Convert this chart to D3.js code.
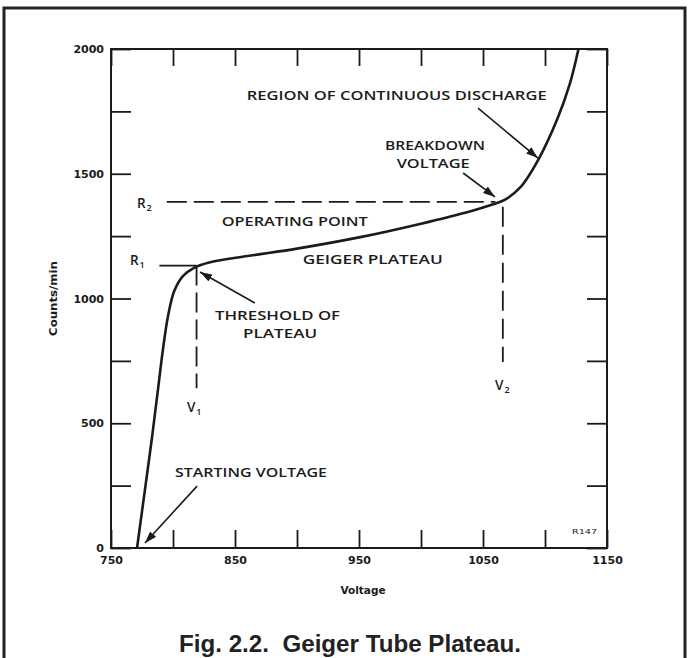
<!DOCTYPE html>
<html><head><meta charset="utf-8">
<script src="https://cdn.jsdelivr.net/npm/d3@7"></script>
<style>
html,body{margin:0;padding:0;background:#fff;}
svg{display:block;}
</style></head>
<body>
<script>
// ---- data ----
const voltage = [771, 777, 783, 788, 792, 796, 801, 808, 817, 830, 860, 900, 950, 1000, 1040, 1057, 1067, 1080, 1095, 1110, 1120, 1127];
const counts  = [0, 220, 440, 640, 800, 930, 1030, 1090, 1123, 1145, 1170, 1200, 1245, 1300, 1350, 1376, 1394, 1445, 1560, 1720, 1860, 2000];
const xTicks = [750, 800, 850, 900, 950, 1000, 1050, 1100, 1150];
const xTickLabels = [750, 850, 950, 1050, 1150];
const yTicks = [0, 250, 500, 750, 1000, 1250, 1500, 1750, 2000];
const yTickLabels = [0, 500, 1000, 1500, 2000];
const R1 = 1132, R2 = 1387, V1 = 819, V2 = 1066;
const annoText = ["REGION OF CONTINUOUS DISCHARGE", "BREAKDOWN", "VOLTAGE", "OPERATING POINT", "GEIGER PLATEAU", "THRESHOLD OF", "PLATEAU", "STARTING VOLTAGE"];
const annoV = [859.4, 971, 980.4, 839.3, 904.6, 833.9, 856.5, 801.6];
const annoC = [1815, 1615, 1542, 1308, 1158, 934, 862, 302];
const arrowFrom = [[1046, 1763], [1034, 1503], [866, 982], [819.4, 248]];
const arrowTo   = [[1094.3, 1563], [1059.7, 1407], [821.8, 1106], [777.4, 20]];
const title = "Fig. 2.2.  Geiger Tube Plateau.";
const xTitle = "Voltage", yTitle = "Counts/min";

const W = 689, H = 658;
const ink = "#1b1b1b";
const svg = d3.select("body").append("svg").attr("width", W).attr("height", H);

// outer border (open at bottom)
svg.append("path").attr("d", `M4,${H} V8 H685 V${H}`).attr("fill", "none").attr("stroke", "#222").attr("stroke-width", 3);

const x = d3.scaleLinear().domain([750, 1150]).range([111, 607]);
const y = d3.scaleLinear().domain([0, 2000]).range([548, 49]);

const tickFont = "bold 11px 'DejaVu Sans', sans-serif";

function styleAxis(g) {
  g.select(".domain").remove();
  g.selectAll(".tick line").attr("stroke", ink).attr("stroke-width", 1.8);
  g.selectAll(".tick text").attr("fill", ink).style("font", tickFont);
}

svg.append("g").attr("transform", `translate(0,${y(0)})`)
  .call(d3.axisBottom(x).tickValues(xTicks).tickSize(-18).tickPadding(8)
    .tickFormat(d => xTickLabels.includes(d) ? d : ""))
  .call(styleAxis);
svg.append("g").attr("transform", `translate(0,${y(2000)})`)
  .call(d3.axisTop(x).tickValues(xTicks).tickSize(-17).tickFormat(""))
  .call(styleAxis);
svg.append("g").attr("transform", `translate(${x(750)},0)`)
  .call(d3.axisLeft(y).tickValues(yTicks).tickSize(-20).tickPadding(7)
    .tickFormat(d => yTickLabels.includes(d) ? d : ""))
  .call(styleAxis);
svg.append("g").attr("transform", `translate(${x(1150)},0)`)
  .call(d3.axisRight(y).tickValues(yTicks).tickSize(-20).tickFormat(""))
  .call(styleAxis);

// frame
svg.append("rect").attr("x", x(750)).attr("y", y(2000))
  .attr("width", x(1150) - x(750)).attr("height", y(0) - y(2000))
  .attr("fill", "none").attr("stroke", ink).attr("stroke-width", 2);

// axis titles
svg.append("text").attr("x", (x(750) + x(1150)) / 2 + 4).attr("y", 594)
  .attr("text-anchor", "middle").attr("fill", ink)
  .style("font", "bold 10.5px 'DejaVu Sans', sans-serif").text(xTitle);
svg.append("text").attr("transform", `translate(57,${y(1000)}) rotate(-90)`)
  .attr("text-anchor", "middle").attr("fill", ink)
  .attr("textLength", 75).attr("lengthAdjust", "spacingAndGlyphs")
  .style("font", "bold 10.5px 'DejaVu Sans', sans-serif").text(yTitle);

// reference lines
const dash = "20,7";
svg.append("line").attr("x1", x(789)).attr("x2", x(V1)).attr("y1", y(R1)).attr("y2", y(R1))
  .attr("stroke", ink).attr("stroke-width", 1.8);
svg.append("line").attr("x1", x(795)).attr("x2", x(1060)).attr("y1", y(R2)).attr("y2", y(R2))
  .attr("stroke", ink).attr("stroke-width", 1.8).attr("stroke-dasharray", dash);
svg.append("line").attr("x1", x(V1)).attr("x2", x(V1)).attr("y1", y(R1)).attr("y2", y(640))
  .attr("stroke", ink).attr("stroke-width", 1.8).attr("stroke-dasharray", dash);
svg.append("line").attr("x1", x(V2)).attr("x2", x(V2)).attr("y1", y(1368)).attr("y2", y(745))
  .attr("stroke", ink).attr("stroke-width", 1.8).attr("stroke-dasharray", "20,8");

// curve
const pts = voltage.map((v, i) => [v, counts[i]]);
svg.append("path").datum(pts)
  .attr("d", d3.line().x(d => x(d[0])).y(d => y(d[1])).curve(d3.curveCatmullRom.alpha(0.5)))
  .attr("fill", "none").attr("stroke", ink).attr("stroke-width", 2.6).attr("stroke-linejoin", "round");

// annotations
const annoWidth = [300, 100, 73, 146, 140, 125, 74, 152];
const annoFont = "600 13px 'Open Sans', 'DejaVu Sans', sans-serif";
annoText.forEach((t, i) => {
  svg.append("text").attr("x", x(annoV[i])).attr("y", y(annoC[i])).attr("dy", "0.36em")
    .attr("fill", ink).attr("textLength", annoWidth[i]).attr("lengthAdjust", "spacingAndGlyphs")
    .style("font", annoFont).text(t);
});

// arrow markers
const defs = svg.append("defs");
defs.append("marker").attr("id", "ah").attr("viewBox", "0 0 12 8").attr("refX", 12).attr("refY", 4)
  .attr("markerWidth", 12).attr("markerHeight", 8).attr("markerUnits", "userSpaceOnUse").attr("orient", "auto")
  .append("path").attr("d", "M0,0 L12,4 L0,8 Z").attr("fill", ink);
arrowFrom.forEach((f, i) => {
  svg.append("line").attr("x1", x(f[0])).attr("y1", y(f[1]))
    .attr("x2", x(arrowTo[i][0])).attr("y2", y(arrowTo[i][1]))
    .attr("stroke", ink).attr("stroke-width", 1.6).attr("marker-end", "url(#ah)");
});

// R and V labels with subscripts
const subLabels = [["R", "2", 770.9, 1383], ["R", "1", 765.3, 1154], ["V", "1", 811.2, 565], ["V", "2", 1059.7, 653]];
subLabels.forEach(s => {
  const t = svg.append("text").attr("x", x(s[2])).attr("y", y(s[3])).attr("dy", "0.36em")
    .attr("fill", ink).style("font", "600 13.5px 'Open Sans', 'DejaVu Sans', sans-serif");
  t.append("tspan").text(s[0]);
  t.append("tspan").attr("dy", 3).attr("dx", 1).style("font-size", "9px").text(s[1]);
});

// small code
svg.append("text").attr("x", x(1121.8)).attr("y", y(68)).attr("dy", "0.36em")
  .attr("fill", ink).attr("textLength", 25).attr("lengthAdjust", "spacingAndGlyphs")
  .style("font", "7px 'DejaVu Sans', sans-serif").text("R147");

// caption
svg.append("text").attr("x", 350).attr("y", 652).attr("text-anchor", "middle")
  .attr("fill", "#222").attr("textLength", 342).attr("lengthAdjust", "spacingAndGlyphs")
  .style("font", "bold 23px 'Liberation Sans', Arial, sans-serif").style("white-space", "pre").text(title);
</script>
</body></html>
